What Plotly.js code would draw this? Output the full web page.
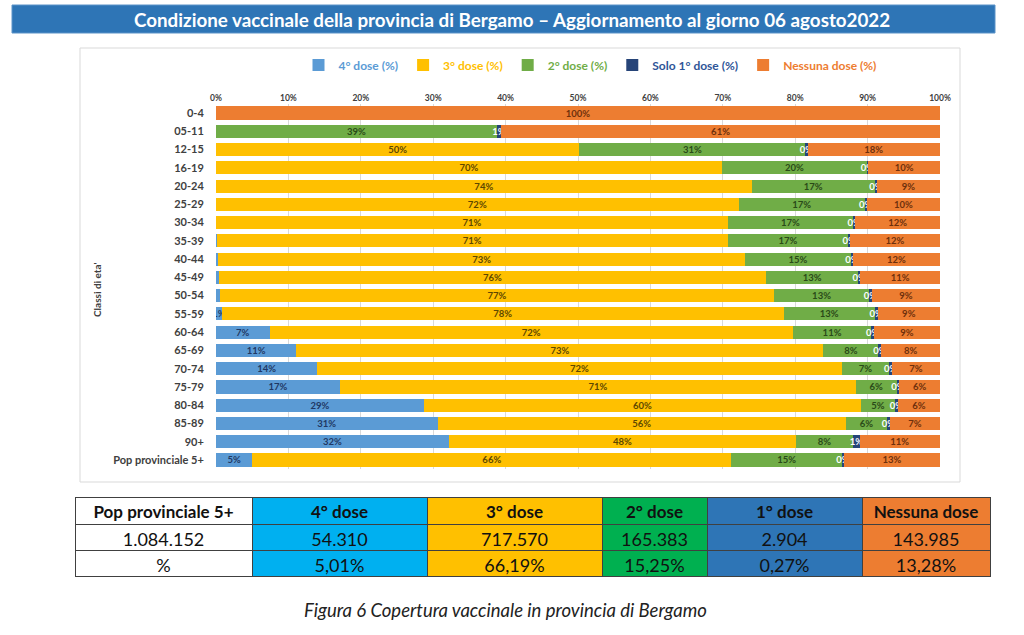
<!DOCTYPE html>
<html><head><meta charset="utf-8">
<script src="https://cdn.plot.ly/plotly-3.0.1.min.js"></script>
<style>html,body{margin:0;padding:0;background:#fff;}#chart{width:1024px;height:635px;}</style>
</head><body><div id="chart"></div>
<script>
// ---- data ----
const ageClasses = ['0-4','05-11','12-15','16-19','20-24','25-29','30-34','35-39','40-44','45-49','50-54','55-59','60-64','65-69','70-74','75-79','80-84','85-89','90+','Pop provinciale 5+'];
const dose4 =   [0, 0,    0,    0,    0,    0,    0,    0.1,  0.3,  0.4,  0.5,  0.8,  7.4,  11.1, 14.0, 17.1, 28.7, 30.6, 32.2, 5.01];
const dose3 =   [0, 0,    50.2, 69.9, 74.0, 72.2, 70.7, 70.6, 72.8, 75.6, 76.6, 77.6, 72.3, 72.8, 72.4, 71.3, 60.4, 56.4, 47.9, 66.19];
const dose2 =   [0, 38.8, 31.2, 20.0, 17.0, 17.4, 17.3, 16.6, 14.6, 12.7, 13.1, 12.6, 10.8, 7.6,  6.6,  5.6,  4.7,  5.7,  7.9,  15.25];
const dose1 =   [0, 0.6,  0.3,  0.2,  0.3,  0.3,  0.3,  0.3,  0.3,  0.3,  0.4,  0.4,  0.4,  0.4,  0.4,  0.4,  0.4,  0.4,  0.9,  0.27];
const noDose =  [100, 60.6, 18.3, 9.9, 8.7, 10.1, 11.7, 12.4, 12.0, 11.0, 9.4, 8.6, 9.1, 8.1, 6.6, 5.6, 5.8, 6.9, 11.1, 13.28];
const xTicks = [0,10,20,30,40,50,60,70,80,90,100];
const seriesNames = ['4° dose (%)','3° dose (%)','2° dose (%)','Solo 1° dose (%)','Nessuna dose (%)'];

const tableHeader = ['Pop provinciale 5+','4° dose','3° dose','2° dose','1° dose','Nessuna dose'];
const tableCounts = ['1.084.152','54.310','717.570','165.383','2.904','143.985'];
const tablePercents = ['%','5,01%','66,19%','15,25%','0,27%','13,28%'];

// ---- styles ----
const W = 1024, H = 635;
const px = x => x / W, py = y => 1 - y / H;
const colors = ['#5B9BD5','#FFC000','#70AD47','#264478','#ED7D31'];
const labelColors = ['#1F3864','#5E4700','#2A4A18','#FFFFFF','#6E300C'];
const legendColors = ['#5B9BD5','#FFC000','#70AD47','#2F5597','#ED7D31'];
const FONT = 'Lato, "Open Sans", sans-serif';

function labels(arr, minShow) {
  return arr.map(v => (v > 0 && v >= minShow) ? Math.round(v) + '%' : '');
}
const allSeries = [dose4, dose3, dose2, dose1, noDose];
const minShow = [0.75, 0.01, 0.01, 0.01, 0.01];

const traces = allSeries.map((vals, i) => ({
  type: 'bar', orientation: 'h',
  x: vals, y: ageClasses,
  name: '<span style="color:' + legendColors[i] + '">' + seriesNames[i] + '</span>',
  marker: {color: colors[i], line: {width: 0}},
  text: labels(vals, minShow[i]),
  textposition: 'inside', insidetextanchor: 'middle', textangle: 0,
  insidetextfont: {family: FONT, size: 9.5, color: labelColors[i], weight: 'bold'},
  hoverinfo: 'x+y+name'
}));

const colFill = ['#FFFFFF','#00B0F0','#FFC000','#00B050','#2E75B6','#ED7D31'];
traces.push({
  type: 'table',
  domain: {x: [px(75), px(990)], y: [py(590), py(497)]},
  columnwidth: [177,175,175,105,155,128],
  header: {
    values: tableHeader,
    fill: {color: colFill},
    line: {color: '#404040', width: 1},
    align: 'center', height: 27,
    font: {family: FONT, size: 17, color: '#111111', weight: 'bold'}
  },
  cells: {
    values: tableHeader.map((_, i) => [tableCounts[i], tablePercents[i]]),
    fill: {color: colFill},
    line: {color: '#404040', width: 1},
    align: 'center', height: 26,
    font: {family: FONT, size: 18, color: '#111111'}
  }
});

const layout = {
  width: W, height: H,
  margin: {l: 0, r: 0, t: 0, b: 0},
  paper_bgcolor: '#FFFFFF', plot_bgcolor: '#FFFFFF',
  barmode: 'stack', bargap: 0.28,
  font: {family: FONT},
  showlegend: true,
  legend: {orientation: 'h', x: px(590), xanchor: 'center', y: py(65), yanchor: 'middle',
           font: {family: FONT, size: 12, weight: 'bold'}, traceorder: 'normal', itemwidth: 30},
  uniformtext: {mode: 'show', minsize: 9.5},
  xaxis: {
    domain: [px(216), px(940)], range: [0, 100], side: 'top',
    tickvals: xTicks, ticktext: xTicks.map(t => t + '%'),
    tickfont: {family: FONT, size: 8.5, color: '#404040', weight: 'bold'},
    showgrid: true, gridcolor: '#D9D9D9', gridwidth: 1,
    zeroline: false, showline: false, ticks: '', fixedrange: true
  },
  yaxis: {
    domain: [py(469.1), py(103.9)], autorange: 'reversed', type: 'category',
    tickfont: {family: FONT, size: 11, color: '#404040', weight: 'bold'},
    ticks: 'outside', ticklen: 9, tickcolor: 'rgba(0,0,0,0)',
    showgrid: false, zeroline: false, showline: false, fixedrange: true
  },
  shapes: [
    {type: 'rect', xref: 'paper', yref: 'paper', x0: px(12), x1: px(995), y0: py(33), y1: py(5),
     fillcolor: '#2E75B6', line: {color: '#5A93C8', width: 1}, layer: 'below'},
    {type: 'rect', xref: 'paper', yref: 'paper', x0: px(80), x1: px(960), y0: py(482), y1: py(48),
     fillcolor: 'rgba(0,0,0,0)', line: {color: '#D9D9D9', width: 1}, layer: 'below'}
  ],
  annotations: [
    {xref: 'paper', yref: 'paper', x: px(512), y: py(19), xanchor: 'center', yanchor: 'middle', showarrow: false,
     text: 'Condizione vaccinale della provincia di Bergamo – Aggiornamento al giorno 06 agosto2022',
     font: {family: FONT, size: 18.8, color: '#FFFFFF', weight: 'bold'}},
    {xref: 'paper', yref: 'paper', x: px(97), y: py(290), xanchor: 'center', yanchor: 'middle', showarrow: false,
     text: "Classi di eta'", textangle: -90,
     font: {family: FONT, size: 10, color: '#404040', weight: 'bold'}},
    {xref: 'paper', yref: 'paper', x: px(505), y: py(610), xanchor: 'center', yanchor: 'middle', showarrow: false,
     text: '<i>Figura 6 Copertura vaccinale in provincia di Bergamo</i>',
     font: {family: FONT, size: 18.5, color: '#222222'}}
  ]
};

Plotly.newPlot('chart', traces, layout, {displayModeBar: false, staticPlot: true});
</script></body></html>
